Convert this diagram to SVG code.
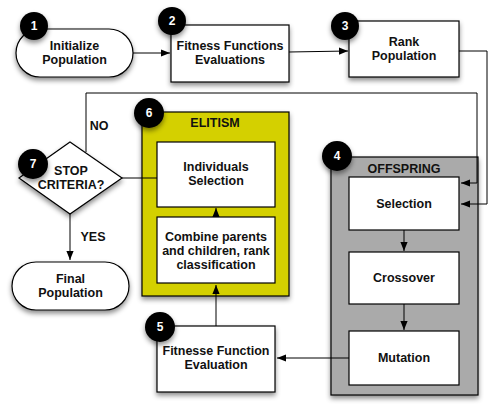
<svg xmlns="http://www.w3.org/2000/svg" width="489" height="410" viewBox="0 0 489 410">
<defs>
<filter id="sh" x="-20%" y="-20%" width="140%" height="150%">
<feDropShadow dx="0" dy="3" stdDeviation="2.5" flood-color="#000" flood-opacity="0.45"/>
</filter>
<marker id="ah" viewBox="0 0 10 10" refX="10" refY="5" markerWidth="9" markerHeight="9" markerUnits="userSpaceOnUse" orient="auto">
<path d="M0,1 L10,5 L0,9 Z" fill="#000"/>
</marker>
<style>
.box{fill:#fff;stroke:#000;stroke-width:1.2}
.t{font-family:"Liberation Sans",Arial,sans-serif;font-weight:bold;font-size:12.5px;text-anchor:middle;fill:#111}
.badge{fill:#000}
.bt{font-family:"Liberation Sans",Arial,sans-serif;font-weight:bold;font-size:12px;text-anchor:middle;fill:#fff}
.c{fill:none;stroke:#000;stroke-width:1}
.ca{fill:none;stroke:#000;stroke-width:1;marker-end:url(#ah)}
</style>
</defs>
<rect width="489" height="410" fill="#fff"/>

<g id="n4">
<rect x="331" y="157" width="147" height="238" fill="#aaaaaa" stroke="#000" stroke-width="1.2" filter="url(#sh)"/>
<text class="t" x="404" y="173">OFFSPRING</text>
<circle class="badge" cx="337" cy="156" r="15" filter="url(#sh)"/>
<text class="bt" x="337" y="160">4</text>
</g>

<g id="n6">
<rect x="142" y="112" width="147" height="184" fill="#d4d000" stroke="#000" stroke-width="1.2" filter="url(#sh)"/>
<text class="t" x="215" y="127">ELITISM</text>
<circle class="badge" cx="149" cy="113" r="15" filter="url(#sh)"/>
<text class="bt" x="149" y="117">6</text>
</g>

<g id="connectors">
<path class="ca" d="M133,53 L170,53"/>
<path class="ca" d="M289,52 L348,51"/>
<path class="ca" d="M459,51 L487,51 L487,204 L461,204"/>
<path class="ca" d="M86,152 L86,93 L477,93 L477,183 L461,183"/>
<path class="ca" d="M404,230 L404,251"/>
<path class="ca" d="M404,304 L404,330"/>
<path class="ca" d="M349,358 L277,358"/>
<path class="ca" d="M216,326 L216,285"/>
<path class="ca" d="M216,217 L216,208"/>
<path class="c" d="M122,178 L157,178"/>
<path class="ca" d="M70,214 L70,260"/>
</g>

<g id="n1">
<rect class="box" x="16" y="29" width="117" height="48" rx="24" filter="url(#sh)"/>
<text class="t" x="74.5" y="50">Initialize</text>
<text class="t" x="74.5" y="64">Population</text>
<circle class="badge" cx="34" cy="26" r="14" filter="url(#sh)"/>
<text class="bt" x="34" y="30">1</text>
</g>

<g id="n2">
<rect class="box" x="171" y="25" width="118" height="57" filter="url(#sh)"/>
<text class="t" x="230" y="50">Fitness Functions</text>
<text class="t" x="230" y="64">Evaluations</text>
<circle class="badge" cx="172" cy="21" r="14" filter="url(#sh)"/>
<text class="bt" x="172" y="25">2</text>
</g>

<g id="n3">
<rect class="box" x="349" y="21" width="110" height="56" filter="url(#sh)"/>
<text class="t" x="404" y="46">Rank</text>
<text class="t" x="404" y="60">Population</text>
<circle class="badge" cx="345" cy="26" r="14" filter="url(#sh)"/>
<text class="bt" x="345" y="30">3</text>
</g>

<g id="n4a">
<rect class="box" x="349" y="177" width="110" height="53"/>
<text class="t" x="404" y="208">Selection</text>
</g>
<g id="n4b">
<rect class="box" x="349" y="252" width="110" height="52"/>
<text class="t" x="404" y="282">Crossover</text>
</g>
<g id="n4c">
<rect class="box" x="349" y="331" width="110" height="54"/>
<text class="t" x="404" y="362">Mutation</text>
</g>

<g id="n5">
<rect class="box" x="157" y="326" width="118" height="66" filter="url(#sh)"/>
<text class="t" x="216" y="355">Fitnesse Function</text>
<text class="t" x="216" y="369">Evaluation</text>
<circle class="badge" cx="160" cy="327" r="15" filter="url(#sh)"/>
<text class="bt" x="160" y="331">5</text>
</g>

<g id="n6a">
<rect class="box" x="157" y="142" width="118" height="65"/>
<text class="t" x="216" y="171">Individuals</text>
<text class="t" x="216" y="185">Selection</text>
</g>
<g id="n6b">
<rect class="box" x="157" y="217" width="118" height="66"/>
<text class="t" x="216" y="241">Combine parents</text>
<text class="t" x="216" y="255">and children, rank</text>
<text class="t" x="216" y="269">classification</text>
</g>

<g id="n7">
<path class="box" d="M70,142 L122,178 L70,214 L19,178 Z" filter="url(#sh)"/>
<text class="t" x="71" y="175">STOP</text>
<text class="t" x="71" y="189">CRITERIA?</text>
<circle class="badge" cx="33" cy="164" r="15" filter="url(#sh)"/>
<text class="bt" x="33" y="168">7</text>
</g>

<g id="labels">
<text class="t" x="99" y="130">NO</text>
<text class="t" x="93" y="241">YES</text>
</g>

<g id="n8">
<rect class="box" x="12" y="262" width="117" height="48" rx="24" filter="url(#sh)"/>
<text class="t" x="70.5" y="283">Final</text>
<text class="t" x="70.5" y="297">Population</text>
</g>
</svg>
